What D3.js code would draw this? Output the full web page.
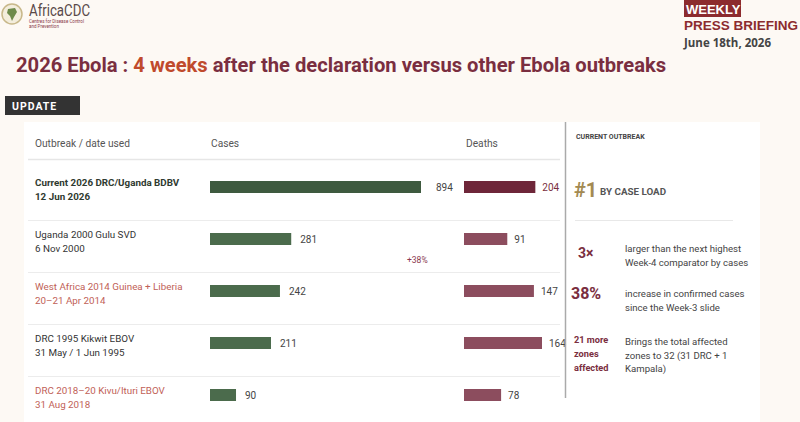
<!DOCTYPE html>
<html>
<head>
<meta charset="utf-8">
<script src="https://cdn.jsdelivr.net/npm/d3@7"></script>
<style>
  body { margin: 0; background: #fdf9f4; }
  svg { display: block; }
  text { font-family: "Liberation Sans Narrow", "Roboto", "Liberation Sans", sans-serif; }
</style>
</head>
<body>
<div id="chart"></div>
<script>
// data
const outbreaks = ["Current 2026 DRC/Uganda BDBV", "Uganda 2000 Gulu SVD", "West Africa 2014 Guinea + Liberia",
    "DRC 1995 Kikwit EBOV", "DRC 2018\u201320 Kivu/Ituri EBOV"];
const dates = ["12 Jun 2026", "6 Nov 2000", "20\u201321 Apr 2014", "31 May / 1 Jun 1995", "31 Aug 2018"];
const cases = [894, 281, 242, 211, 90];
const deaths = [204, 91, 147, 164, 78];
const highlight = [false, false, true, false, true];
// the current outbreak bars are cut short on the slide
const casesCap = 730, deathsCap = 150;

const width = 800, height = 422;
const svg = d3.select("#chart").append("svg")
    .attr("width", width).attr("height", height);

svg.append("rect").attr("width", width).attr("height", height).attr("fill", "#fdf9f4");

// logo
const logo = svg.append("g");
logo.append("circle").attr("cx", 12).attr("cy", 14).attr("r", 10)
    .attr("fill", "#f3eddc").attr("stroke", "#c8b88a").attr("stroke-width", 1.5);
logo.append("path").attr("d", "M8,9 L15,8 L17,12 L14,17 L12,21 L10,16 L7,13 Z").attr("fill", "#6d8a4a");
logo.append("text").attr("x", 29).attr("y", 16).attr("font-size", 17)
    .attr("textLength", 61).attr("lengthAdjust", "spacingAndGlyphs")
    .attr("fill", "#5a4a4a").text("AfricaCDC");
logo.append("text").attr("x", 29).attr("y", 23).attr("font-size", 4.5).attr("fill", "#8a3a4a").text("Centres for Disease Control");
logo.append("text").attr("x", 29).attr("y", 28).attr("font-size", 4.5).attr("fill", "#8a3a4a").text("and Prevention");

// weekly briefing
svg.append("rect").attr("x", 684).attr("y", 0).attr("width", 57).attr("height", 17).attr("fill", "#8c2b2e");
svg.append("text").attr("x", 686).attr("y", 14).attr("font-size", 13).attr("font-weight", 700)
    .attr("fill", "#fff").style("font-family", "Liberation Sans, sans-serif").text("WEEKLY");
svg.append("text").attr("x", 684).attr("y", 30).attr("font-size", 13.5).attr("font-weight", 700)
    .attr("fill", "#8c2b2e").style("font-family", "Liberation Sans, sans-serif").text("PRESS BRIEFING");
svg.append("text").attr("x", 684).attr("y", 47).attr("font-size", 11.5).attr("font-weight", 700)
    .attr("fill", "#444").style("font-family", "Open Sans, sans-serif").text("June 18th, 2026");

// title
const title = svg.append("text").attr("x", 16).attr("y", 72).attr("font-size", 20.2).attr("font-weight", 700)
    .attr("fill", "#7a2e40");
title.append("tspan").text("2026 Ebola : ");
title.append("tspan").attr("fill", "#c04a2c").text("4 weeks");
title.append("tspan").text(" after the declaration versus other Ebola outbreaks");

// update tag
svg.append("rect").attr("x", 5).attr("y", 96).attr("width", 75).attr("height", 19).attr("fill", "#333");
svg.append("text").attr("x", 12).attr("y", 110).attr("font-size", 10.5).attr("font-weight", 700)
    .attr("letter-spacing", 1).attr("fill", "#fff").text("UPDATE");

// card
svg.append("rect").attr("x", 24).attr("y", 122).attr("width", 736).attr("height", 310)
    .attr("fill", "#fff");

// headers
const hdr = svg.append("g").attr("font-size", 10.2).attr("fill", "#555");
hdr.append("text").attr("x", 35).attr("y", 147).text("Outbreak / date used");
hdr.append("text").attr("x", 211).attr("y", 147).text("Cases");
hdr.append("text").attr("x", 466).attr("y", 147).text("Deaths");
svg.append("line").attr("x1", 28).attr("x2", 560).attr("y1", 159.5).attr("y2", 159.5)
    .attr("stroke", "#e6e6e6").attr("stroke-width", 1.5);

// scales
const y = d3.scaleBand().domain(d3.range(outbreaks.length)).range([168, 428]);
const xCases = d3.scaleLinear().domain([0, casesCap]).range([0, 211]).clamp(true);
const xDeaths = d3.scaleLinear().domain([0, 164]).range([0, 78]);
const deathW = (v, i) => i == 0 ? xDeaths(Math.min(v, deathsCap)) : xDeaths(v);

const rows = svg.append("g").selectAll("g").data(outbreaks).join("g")
    .attr("transform", (d, i) => `translate(0,${y(i)})`);

rows.filter((d, i) => i < outbreaks.length - 1).append("line")
    .attr("x1", 28).attr("x2", 560).attr("y1", y.bandwidth() + 0.5).attr("y2", y.bandwidth() + 0.5)
    .attr("stroke", "#ececec");

const rowColor = (d, i) => highlight[i] ? "#bf6157" : (i == 0 ? "#2f3a30" : "#333");
rows.append("text").attr("x", 35).attr("y", 18).attr("font-size", 9.8)
    .attr("font-weight", (d, i) => i == 0 ? 700 : 400)
    .attr("fill", rowColor)
    .text(d => d);
rows.append("text").attr("x", 35).attr("y", 32).attr("font-size", 9.8)
    .attr("font-weight", (d, i) => i == 0 ? 700 : 400)
    .attr("fill", rowColor)
    .text((d, i) => dates[i]);

const barY = 13, barH = 12;
rows.append("rect").attr("x", 210).attr("y", barY).attr("height", barH)
    .attr("width", (d, i) => xCases(cases[i]))
    .attr("fill", (d, i) => i == 0 ? "#3e5a3f" : "#4b6b4c");
rows.append("text").attr("x", (d, i) => 210 + xCases(cases[i]) + (i == 0 ? 15 : 9)).attr("y", barY + 10)
    .attr("font-size", 10).attr("fill", "#444")
    .text((d, i) => cases[i]);

rows.append("rect").attr("x", 464).attr("y", barY).attr("height", barH)
    .attr("width", (d, i) => deathW(deaths[i], i))
    .attr("fill", (d, i) => i == 0 ? "#6e2639" : "#8c4d5e");
rows.append("text").attr("x", (d, i) => 464 + deathW(deaths[i], i) + 7).attr("y", barY + 10)
    .attr("font-size", 10)
    .attr("fill", (d, i) => i == 0 ? "#7a2e40" : "#444")
    .text((d, i) => deaths[i]);

svg.append("text").attr("x", 407).attr("y", 263).attr("font-size", 8.5).attr("fill", "#8c3a50").text("+38%");

// right panel
svg.append("line").attr("x1", 565.5).attr("x2", 565.5).attr("y1", 122).attr("y2", 398)
    .attr("stroke", "#aaa").attr("stroke-width", 1.5);
svg.append("text").attr("x", 576).attr("y", 139).attr("font-size", 7).attr("font-weight", 700)
    .attr("fill", "#444").text("CURRENT OUTBREAK");
svg.append("text").attr("x", 574).attr("y", 197).attr("font-size", 20).attr("font-weight", 700)
    .attr("fill", "#a38a52").text("#1");
svg.append("text").attr("x", 600).attr("y", 195).attr("font-size", 9.8).attr("font-weight", 700)
    .attr("fill", "#555").text("BY CASE LOAD");
svg.append("line").attr("x1", 575).attr("x2", 733).attr("y1", 220.5).attr("y2", 220.5)
    .attr("stroke", "#e8e8e8");

const stats = [
  {k: "3\u00d7", x: 578, size: 14, ky: 258, lines: ["larger than the next highest", "Week-4 comparator by cases"], ly: 252},
  {k: "38%", x: 571, size: 16, ky: 299, lines: ["increase in confirmed cases", "since the Week-3 slide"], ly: 297},
  {k: ["21 more", "zones", "affected"], x: 574, size: 9.2, ky: 343, lines: ["Brings the total affected", "zones to 32 (31 DRC + 1", "Kampala)"], ly: 345}
];
stats.forEach(s => {
  const keys = Array.isArray(s.k) ? s.k : [s.k];
  keys.forEach((t, j) => {
    svg.append("text").attr("x", s.x).attr("y", s.ky + j * 14)
      .attr("font-size", s.size).attr("font-weight", 700).attr("fill", "#7a2e40").text(t);
  });
  s.lines.forEach((t, j) => {
    svg.append("text").attr("x", 625).attr("y", s.ly + j * 13.7)
      .attr("font-size", 9.6).attr("fill", "#444").text(t);
  });
});
</script>
</body>
</html>
